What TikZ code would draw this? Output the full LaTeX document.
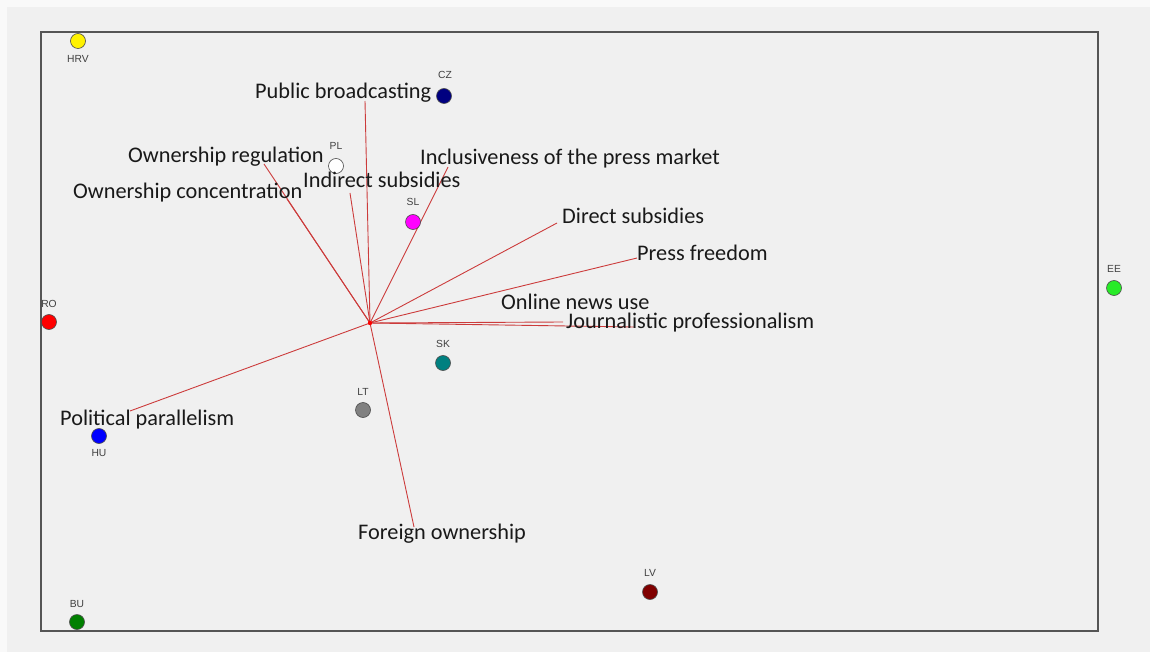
\documentclass[tikz,border=0pt]{standalone}
\usepackage{fontspec}
\newfontfamily\labfont{Carlito}
\newfontfamily\ptfont{Liberation Sans}
\definecolor{bg}{HTML}{F0F0F0}
\definecolor{vec}{HTML}{CC3B3B}
\definecolor{frame}{HTML}{555555}
\begin{document}
\begin{tikzpicture}[x=1pt,y=-1pt,
  vecline/.style={draw=vec, line width=0.9pt},
  varlab/.style={anchor=base west, inner sep=0pt, font=\labfont\fontsize{22.3}{25}\selectfont, text=black!90},
  ptlab/.style={anchor=base, inner sep=0pt, font=\ptfont\fontsize{10.3}{12}\selectfont, text=black!75},
  pt/.style={circle, draw=black!70, line width=0.6pt, minimum size=15pt, inner sep=0pt}]
\useasboundingbox (0,0) rectangle (1150,652);
\fill[white!60!bg] (0,0) rectangle (1150,652);
\fill[bg] (7,7) rectangle (1150,652);
\draw[frame, line width=1.3pt] (41,32) rectangle (1098,631);
% center and vector ends
\coordinate (c) at (370,323);
\coordinate (ePB) at (365,101);
\coordinate (eOR) at (264,164);
\coordinate (eOC) at (287,199);
\coordinate (eIS) at (350,193);
\coordinate (eIP) at (448,167);
\coordinate (eDS) at (557,223);
\coordinate (ePF) at (637,258);
\coordinate (eON) at (563,322);
\coordinate (eJP) at (634,327);
\coordinate (ePP) at (130,411);
\coordinate (eFO) at (414,527);
\foreach \e in {ePB,eOR,eOC,eIS,eIP,eDS,ePF,eON,eJP,ePP,eFO}
  \draw[vecline] (c) -- (\e);
\fill[red] (c) circle (2.2pt);
% points
\node[pt, fill=yellow] (HRV) at (78,41) {};
\node[pt, fill={rgb,255:red,0;green,0;blue,128}] (CZ) at (444,96) {};
\node[pt, fill=white] (PL) at (336,166) {};
\node[pt, fill={rgb,255:red,255;green,0;blue,255}] (SL) at (413,222) {};
\node[pt, fill={rgb,255:red,40;green,235;blue,40}] (EE) at (1114,288) {};
\node[pt, fill=red] (RO) at (49,322) {};
\node[pt, fill={rgb,255:red,0;green,128;blue,128}] (SK) at (443,363) {};
\node[pt, fill=gray] (LT) at (363,410) {};
\node[pt, fill=blue] (HU) at (99,436) {};
\node[pt, fill={rgb,255:red,128;green,0;blue,0}] (LV) at (650,592) {};
\node[pt, fill={rgb,255:red,0;green,128;blue,0}] (BU) at (77,622) {};
% point labels
\node[ptlab] (lHRV) at (78,63) {HRV};
\node[ptlab] (lCZ) at (445,79) {CZ};
\node[ptlab] (lPL) at (336,150) {PL};
\node[ptlab] (lSL) at (413,206) {SL};
\node[ptlab] (lEE) at (1114,272) {EE};
\node[ptlab] (lRO) at (49,307) {RO};
\node[ptlab] (lSK) at (443,347) {SK};
\node[ptlab] (lLT) at (363,395) {LT};
\node[ptlab] (lHU) at (99,456) {HU};
\node[ptlab] (lLV) at (650,576) {LV};
\node[ptlab] (lBU) at (77,607) {BU};
% variable labels
\node[varlab] (tPB) at (255,99) {Public broadcasting};
\node[varlab] (tOR) at (128,163) {Ownership regulation};
\node[varlab] (tOC) at (73,199) {Ownership concentration};
\node[varlab] (tIS) at (303,188) {Indirect subsidies};
\node[varlab] (tIP) at (420,165) {Inclusiveness of the press market};
\node[varlab] (tDS) at (562,224) {Direct subsidies};
\node[varlab] (tPF) at (637,261) {Press freedom};
\node[varlab] (tON) at (501,309) {Online news use};
\node[varlab] (tJP) at (566,328) {Journalistic professionalism};
\node[varlab] (tPP) at (60,425) {Political parallelism};
\node[varlab] (tFO) at (358,539) {Foreign ownership};
\end{tikzpicture}
\end{document}
